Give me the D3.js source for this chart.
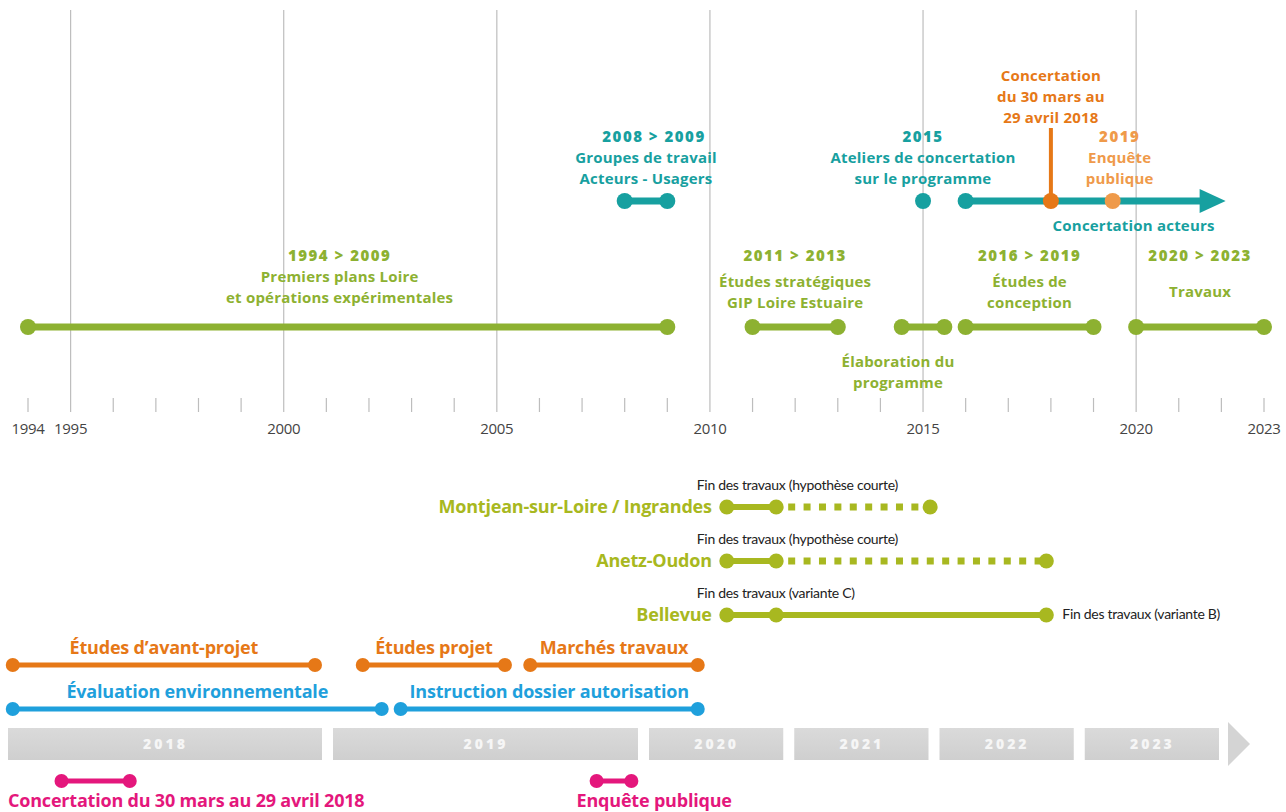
<!DOCTYPE html>
<html>
<head>
<meta charset="utf-8">
<script src="https://cdn.jsdelivr.net/npm/d3@7"></script>
<style>
  body { margin: 0; background: #fff; }
  svg { display: block; font-family: "Open Sans", Lato, sans-serif; }
</style>
</head>
<body>
<script>
// ---------- data ----------
const years = d3.range(1994, 2024);
const majorYears = [1995, 2000, 2005, 2010, 2015, 2020];
const yearLabels = [1994, 1995, 2000, 2005, 2010, 2015, 2020, 2023];

// green phases (top timeline)
const phaseStart = [1994, 2011, 2014.5, 2016, 2020];
const phaseEnd   = [2009, 2013, 2015.5, 2019, 2023];
const phaseTitle = ["1994 > 2009", "2011 > 2013", "", "2016 > 2019", "2020 > 2023"];
const phaseText  = [
  ["Premiers plans Loire", "et opérations expérimentales"],
  ["Études stratégiques", "GIP Loire Estuaire"],
  ["Élaboration du", "programme"],
  ["Études de", "conception"],
  ["Travaux"]
];

// concertation (teal)
const groupesStart = 2008, groupesEnd = 2009;
const ateliersYear = 2015;
const acteursStart = 2016, acteursEnd = 2022.1;
const concertYear = 2018;
const enqueteYear = 2019.45;

// bottom: 2018-2023 schedule
const blockYears = [2018, 2019, 2020, 2021, 2022, 2023];

const orangeNames = ["Études d’avant-projet", "Études projet", "Marchés travaux"];
const orangeStart = [2018.03, 2019.11, 2019.64];
const orangeEnd   = [2018.96, 2019.56, 2020.37];

const blueNames = ["Évaluation environnementale", "Instruction dossier autorisation"];
const blueStart = [2018.03, 2019.23];
const blueEnd   = [2019.17, 2020.37];

const pinkNames = ["Concertation du 30 mars au 29 avril 2018", "Enquête publique"];
const pinkStart = [2018.18, 2019.85];
const pinkEnd   = [2018.39, 2019.96];

const siteNames  = ["Montjean-sur-Loire / Ingrandes", "Anetz-Oudon", "Bellevue"];
const siteStart  = [2020.57, 2020.57, 2020.57];
const siteMid    = [2020.91, 2020.91, 2020.91];
const siteEnd    = [2021.97, 2022.77, 2022.77];
const siteDotted = [true, true, false];
const siteNote   = ["Fin des travaux (hypothèse courte)", "Fin des travaux (hypothèse courte)", "Fin des travaux (variante C)"];
const bellevueEndNote = "Fin des travaux (variante B)";

// ---------- colours ----------
const GREEN = "#8db131", TEAL = "#17a0a0", ORANGE = "#e67817", LORANGE = "#ef9a4a",
      BLUE = "#1fa0dc", PINK = "#e4177c", LIME = "#a8b820", GRID = "#bdbdbd", BLOCK = "#d4d4d4";

const W = 1286, H = 812;
const svg = d3.select("body").append("svg").attr("width", W).attr("height", H);

// ---------- top timeline ----------
const x = d3.scaleLinear().domain([1994, 2023]).range([28, 1264]);

const grid = svg.append("g");
grid.selectAll("line.major").data(majorYears).join("line")
    .attr("x1", d => x(d)).attr("x2", d => x(d))
    .attr("y1", 10).attr("y2", 412)
    .attr("stroke", GRID).attr("stroke-width", 1.2);
grid.selectAll("line.minor").data(years.filter(d => !majorYears.includes(d))).join("line")
    .attr("x1", d => x(d)).attr("x2", d => x(d))
    .attr("y1", 398).attr("y2", 412)
    .attr("stroke", GRID).attr("stroke-width", 1.2);
grid.selectAll("text").data(yearLabels).join("text")
    .attr("x", d => x(d)).attr("y", 434)
    .attr("text-anchor", "middle")
    .attr("font-size", 15).attr("fill", "#444").attr("letter-spacing", -0.3)
    .text(d => d);

function bar(g, x0, x1, y, color, r, w) {
  g.append("line").attr("x1", x0).attr("x2", x1).attr("y1", y).attr("y2", y)
    .attr("stroke", color).attr("stroke-width", w);
  g.append("circle").attr("cx", x0).attr("cy", y).attr("r", r).attr("fill", color);
  g.append("circle").attr("cx", x1).attr("cy", y).attr("r", r).attr("fill", color);
}

// one <text> per label block, one tspan per line (optional bold title on top)
function label(g, cx, y0, arr, color, opts = {}) {
  const size = opts.size || 15, step = opts.step || 21;
  const t = g.append("text").attr("text-anchor", opts.anchor || "middle").attr("fill", color);
  let y = y0;
  if (opts.title) {
    t.append("tspan").attr("x", cx + (opts.tdx || 0)).attr("y", y)
      .attr("font-size", 15).attr("font-weight", 800).attr("letter-spacing", 1.5)
      .text(opts.title);
    y += opts.gap || 21;
  }
  arr.forEach((s, i) => {
    t.append("tspan").attr("x", cx).attr("y", y + i * step)
      .attr("font-size", size).attr("font-weight", 700)
      .attr("letter-spacing", opts.ls == null ? 0.2 : opts.ls)
      .text(s);
  });
}

// green phases
const gp = svg.append("g");
const PY = 327;
phaseStart.forEach((s, i) => {
  bar(gp, x(s), x(phaseEnd[i]), PY, GREEN, 8, 7);
  const cx = x((s + phaseEnd[i]) / 2);
  const t = phaseText[i];
  if (!phaseTitle[i]) label(gp, cx - 25, 367, t, GREEN);
  else if (i === 0) label(gp, cx - 8, 261, t, GREEN, { title: phaseTitle[i] });
  else if (t.length === 1) label(gp, cx, 261, t, GREEN, { title: phaseTitle[i], gap: 36 });
  else label(gp, cx, 261, t, GREEN, { title: phaseTitle[i], gap: 26 });
});

// teal concertation
const tp = svg.append("g");
const TY = 201;
bar(tp, x(groupesStart), x(groupesEnd), TY, TEAL, 8, 7);
label(tp, x((groupesStart + groupesEnd) / 2), 142, ["Groupes de travail", "Acteurs - Usagers"], TEAL,
  { title: "2008 > 2009", tdx: 8 });

tp.append("circle").attr("cx", x(ateliersYear)).attr("cy", TY).attr("r", 8).attr("fill", TEAL);
label(tp, x(ateliersYear), 142, ["Ateliers de concertation", "sur le programme"], TEAL, { title: "2015" });

const arrowTip = x(acteursEnd);
tp.append("line").attr("x1", x(acteursStart)).attr("x2", arrowTip - 20)
  .attr("y1", TY).attr("y2", TY).attr("stroke", TEAL).attr("stroke-width", 7);
tp.append("circle").attr("cx", x(acteursStart)).attr("cy", TY).attr("r", 8).attr("fill", TEAL);
tp.append("path")
  .attr("d", `M${arrowTip - 26},${TY - 12} L${arrowTip},${TY} L${arrowTip - 26},${TY + 12} Z`)
  .attr("fill", TEAL);
label(tp, x((acteursStart + acteursEnd) / 2) + 38, 231, ["Concertation acteurs"], TEAL);

// orange concertation marker
tp.append("line").attr("x1", x(concertYear)).attr("x2", x(concertYear))
  .attr("y1", 128).attr("y2", TY).attr("stroke", ORANGE).attr("stroke-width", 4);
tp.append("circle").attr("cx", x(concertYear)).attr("cy", TY).attr("r", 8).attr("fill", ORANGE);
label(tp, x(concertYear), 81, ["Concertation", "du 30 mars au", "29 avril 2018"], ORANGE);

tp.append("circle").attr("cx", x(enqueteYear)).attr("cy", TY).attr("r", 8).attr("fill", LORANGE);
label(tp, x(enqueteYear) + 7, 142, ["Enquête", "publique"], LORANGE, { title: "2019" });

// ---------- bottom schedule ----------
const xb = d3.scaleLinear().domain([2018, 2019, 2020, 2024]).range([3, 328, 644, 1225]);

const bp = svg.append("g");
const BY = 728, BH = 32;
const grad = svg.append("defs").append("linearGradient").attr("id", "blk")
  .attr("x1", 0).attr("x2", 0).attr("y1", 0).attr("y2", 1);
grad.append("stop").attr("offset", 0).attr("stop-color", "#dadada");
grad.append("stop").attr("offset", 1).attr("stop-color", "#cfcfcf");

bp.selectAll("rect").data(blockYears).join("rect")
  .attr("x", d => xb(d) + 5)
  .attr("width", d => xb(d + 1) - xb(d) - 11)
  .attr("y", BY).attr("height", BH)
  .attr("fill", "url(#blk)");
bp.selectAll("text.blk").data(blockYears).join("text")
  .attr("x", d => (xb(d) + xb(d + 1)) / 2)
  .attr("y", BY + BH / 2 + 5)
  .attr("text-anchor", "middle")
  .attr("font-size", 14).attr("font-weight", 800)
  .attr("letter-spacing", 3).attr("fill", "#f6f6f6")
  .text(d => d);
const tipX = xb(2024);
bp.append("path")
  .attr("d", `M${tipX + 3},${BY - 6} L${tipX + 25},${BY + BH / 2} L${tipX + 3},${BY + BH + 6} Z`)
  .attr("fill", BLOCK);

// orange / blue rows
orangeNames.forEach((n, i) => {
  bar(bp, xb(orangeStart[i]), xb(orangeEnd[i]), 665, ORANGE, 7, 5);
  label(bp, (xb(orangeStart[i]) + xb(orangeEnd[i])) / 2, 654, [n], ORANGE, { size: 18, ls: -0.2 });
});
blueNames.forEach((n, i) => {
  bar(bp, xb(blueStart[i]), xb(blueEnd[i]), 709, BLUE, 7, 5);
  label(bp, (xb(blueStart[i]) + xb(blueEnd[i])) / 2, 698, [n], BLUE, { size: 18, ls: -0.2 });
});

// pink rows
pinkNames.forEach((n, i) => {
  bar(bp, xb(pinkStart[i]), xb(pinkEnd[i]), 781, PINK, 7, 5);
  const lx = i === 0 ? xb(blockYears[0]) + 5 : xb(pinkStart[i]) - 20;
  label(bp, lx, 807, [n], PINK, { size: 18, ls: -0.2, anchor: "start" });
});

// site rows
siteNames.forEach((n, i) => {
  const y = 507 + i * 54;
  const a = xb(siteStart[i]), m = xb(siteMid[i]), e = xb(siteEnd[i]);
  bp.append("line").attr("x1", a).attr("x2", m).attr("y1", y).attr("y2", y)
    .attr("stroke", LIME).attr("stroke-width", 6);
  const rest = bp.append("line").attr("x1", m).attr("x2", e).attr("y1", y).attr("y2", y)
    .attr("stroke", LIME);
  if (siteDotted[i]) rest.attr("stroke-width", 7).attr("stroke-dasharray", "7 8.4").attr("stroke-dashoffset", -12);
  else rest.attr("stroke-width", 6);
  [a, m, e].forEach(cx => bp.append("circle").attr("cx", cx).attr("cy", y).attr("r", 7.5).attr("fill", LIME));
  label(bp, a - 15, y + 6, [n], LIME, { size: 18, ls: -0.2, anchor: "end" });
  bp.append("text").attr("x", a - 30).attr("y", y - 17)
    .attr("font-family", "Lato, sans-serif")
    .attr("font-size", 14).attr("fill", "#222").attr("letter-spacing", -0.3)
    .text(siteNote[i]);
  if (!siteDotted[i]) {
    bp.append("text").attr("x", e + 16).attr("y", y + 4)
      .attr("font-family", "Lato, sans-serif")
      .attr("font-size", 14).attr("fill", "#222").attr("letter-spacing", -0.3)
      .text(bellevueEndNote);
  }
});
</script>
</body>
</html>
